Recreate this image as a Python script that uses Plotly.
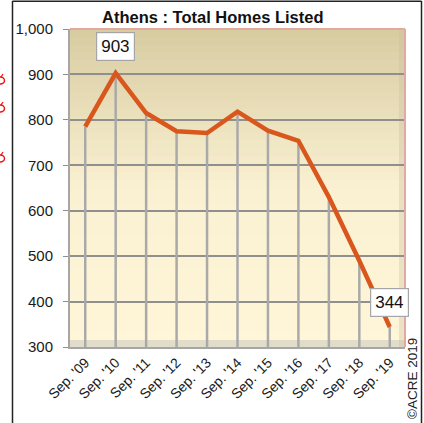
import plotly.graph_objects as go

categories = ["Sep. '09", "Sep. '10", "Sep. '11", "Sep. '12", "Sep. '13", "Sep. '14",
              "Sep. '15", "Sep. '16", "Sep. '17", "Sep. '18", "Sep. '19"]
homes_listed = [785, 903, 815, 775, 771, 818, 776, 754, 630, 490, 344]
y_ticks = [300, 400, 500, 600, 700, 800, 900, 1000]
y_tick_labels = ["300", "400", "500", "600", "700", "800", "900", "1,000"]
title_text = "Athens : Total Homes Listed"
copyright_text = "©ACRE 2019"

W, H = 424, 423
L, R, T, B = 70, 405, 29, 347  # plot area in pixels
def px(x):
    return (x - L) / (R - L)
def py(y):
    return (B - y) / (B - T)

fig = go.Figure()

# drop lines from each point to the baseline
dx, dy = [], []
for c, v in zip(categories, homes_listed):
    dx += [c, c, None]
    dy += [y_ticks[0], v, None]
fig.add_trace(go.Scatter(x=dx, y=dy, mode="lines",
                         line=dict(color="#a9a9a9", width=2.5),
                         hoverinfo="skip", showlegend=False))

fig.add_trace(go.Scatter(x=categories, y=homes_listed, mode="lines",
                         line=dict(color="#d9561c", width=4.5),
                         showlegend=False))

shapes = []
# gradient background of plot area
top = (215, 203, 160)
mid = (250, 241, 210)
bot = (255, 246, 217)
N = 40
for i in range(N):
    f0 = i / N
    f1 = (i + 1) / N
    t = 1 - (f0 + f1) / 2  # 0 at top, 1 at bottom
    if t < 0.5:
        k = t / 0.5
        c = tuple(round(top[j] + (mid[j] - top[j]) * k) for j in range(3))
    else:
        k = (t - 0.5) / 0.5
        c = tuple(round(mid[j] + (bot[j] - mid[j]) * k) for j in range(3))
    shapes.append(dict(type="rect", xref="x domain", yref="y domain",
                       x0=0, x1=1, y0=f0, y1=f1 + 0.002, layer="below",
                       line=dict(width=0), fillcolor="rgb(%d,%d,%d)" % c))
# floor band
shapes.append(dict(type="rect", xref="x domain", yref="y domain", x0=0, x1=1,
                   y0=0, y1=py(340), layer="below", line=dict(width=0),
                   fillcolor="#e2dccb"))
# right side shade
shapes.append(dict(type="rect", xref="x domain", yref="y domain", x0=px(399), x1=1,
                   y0=0, y1=1, layer="below", line=dict(width=0),
                   fillcolor="rgba(200,190,160,0.35)"))
# pink border top and right
shapes.append(dict(type="line", xref="paper", yref="paper", x0=0, x1=1, y0=1, y1=1,
                   line=dict(color="#e2a9a0", width=2)))
shapes.append(dict(type="line", xref="paper", yref="paper", x0=1, x1=1, y0=0, y1=1,
                   line=dict(color="#e2a9a0", width=2)))
# outer black frame
shapes.append(dict(type="line", xref="paper", yref="paper", x0=px(12.5), x1=px(12.5),
                   y0=py(1), y1=py(424), line=dict(color="#222222", width=1.5)))
shapes.append(dict(type="line", xref="paper", yref="paper", x0=px(421.5), x1=px(421.5),
                   y0=py(1), y1=py(424), line=dict(color="#222222", width=1.5)))
shapes.append(dict(type="line", xref="paper", yref="paper", x0=px(12.5), x1=px(421.5),
                   y0=py(1.2), y1=py(1.2), line=dict(color="#222222", width=1.5)))
# cut-off red glyph fragments at the left edge (decorative)
for yy in (80, 108, 158):
    shapes.append(dict(type="circle", xref="paper", yref="paper",
                       x0=px(-4), x1=px(4.5), y0=py(yy + 4), y1=py(yy - 3),
                       line=dict(color="#ee1111", width=1.5)))
    shapes.append(dict(type="line", xref="paper", yref="paper",
                       x0=px(1), x1=px(3), y0=py(yy - 3), y1=py(yy - 6),
                       line=dict(color="#ee1111", width=1.3)))

annotations = [
    dict(text="<b>" + title_text + "</b>", xref="paper", yref="paper",
         x=px(213), y=py(17), showarrow=False, xanchor="center", yanchor="middle",
         font=dict(size=16.5, color="#111111", family="Liberation Sans, Arial, sans-serif")),
    dict(text=copyright_text, xref="paper", yref="paper", x=px(412), y=py(379),
         showarrow=False, textangle=-90, xanchor="center", yanchor="middle",
         font=dict(size=13.5, color="#222222", family="Liberation Sans, Arial, sans-serif")),
]
for idx in (1, 10):
    annotations.append(dict(x=categories[idx], y=homes_listed[idx], text=str(homes_listed[idx]),
                            showarrow=False, yshift=27 if idx == 1 else 25,
                            font=dict(size=17, color="#111111",
                                      family="Liberation Sans, Arial, sans-serif"),
                            bgcolor="white", bordercolor="#a6a6a6", borderwidth=1.2,
                            borderpad=4))

fig.update_layout(
    width=W, height=H,
    margin=dict(l=L, r=W - R, t=T, b=H - B, pad=0),
    paper_bgcolor="white", plot_bgcolor="rgba(0,0,0,0)",
    font=dict(family="Liberation Sans, Arial, sans-serif", color="#1a1a1a"),
    shapes=shapes, annotations=annotations, showlegend=False,
    xaxis=dict(type="category", range=[-0.5, len(categories) - 0.5],
               tickangle=-45, tickfont=dict(size=14, color="#1a1a1a"),
               showgrid=False, showline=True, linecolor="#a6a6a6", linewidth=2,
               ticks="", zeroline=False, automargin=False),
    yaxis=dict(range=[300, 1000], tickvals=y_ticks, ticktext=y_tick_labels,
               tickfont=dict(size=15, color="#1a1a1a"), ticklabelstandoff=7,
               showgrid=True, gridcolor="#8f8f8f", gridwidth=1.5,
               showline=True, linecolor="#a6a6a6", linewidth=2,
               ticks="outside", ticklen=5, tickcolor="#8f8f8f", zeroline=False,
               automargin=False),
)

fig.write_html("out.html", config={"displayModeBar": False},
               post_script="document.body.style.margin='0px';document.body.style.overflow='hidden';")
